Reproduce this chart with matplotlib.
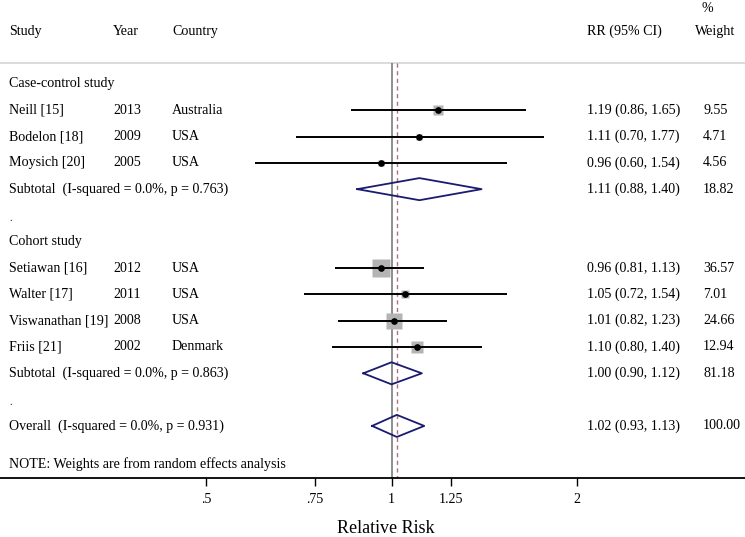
import numpy as np
import matplotlib
matplotlib.use("Agg")
import matplotlib.pyplot as plt
import matplotlib.transforms as mtransforms

plt.rcParams['font.family'] = ['Liberation Serif', 'DejaVu Serif']

# study rows
studies = ["Neill [15]", "Bodelon [18]", "Moysich [20]",
           "Setiawan [16]", "Walter [17]", "Viswanathan [19]", "Friis [21]"]
years = ["2013", "2009", "2005", "2012", "2011", "2008", "2002"]
countries = ["Australia", "USA", "USA", "USA", "USA", "USA", "Denmark"]
rr = [1.19, 1.11, 0.96, 0.96, 1.05, 1.01, 1.10]
lo = [0.86, 0.70, 0.60, 0.81, 0.72, 0.82, 0.80]
hi = [1.65, 1.77, 1.54, 1.13, 1.54, 1.23, 1.40]
weights = [9.55, 4.71, 4.56, 36.57, 7.01, 24.66, 12.94]
study_rows = [1, 2, 3, 7, 8, 9, 10]

# pooled rows
pooled_labels = ["Subtotal  (I-squared = 0.0%, p = 0.763)",
                 "Subtotal  (I-squared = 0.0%, p = 0.863)",
                 "Overall  (I-squared = 0.0%, p = 0.931)"]
pooled_rr = [1.11, 1.00, 1.02]
pooled_lo = [0.88, 0.90, 0.93]
pooled_hi = [1.40, 1.12, 1.13]
pooled_w = ["18.82", "81.18", "100.00"]
pooled_rows = [4, 11, 13]

group_labels = ["Case-control study", "Cohort study"]
group_rows = [0, 6]
spacer_rows = [5, 12]

ticks = [0.5, 0.75, 1, 1.25, 2]
tick_labels = [".5", ".75", "1", "1.25", "2"]

fig = plt.figure(figsize=(7.45, 5.37), dpi=100)
ax = fig.add_axes([0, 59 / 537, 1, 478 / 537])
ax.set_xscale('log')
ax.set_xlim(0.2315, 3.747)
ax.set_ylim(14.98, -3.19)

fs = 10.1
blend = mtransforms.blended_transform_factory(ax.transAxes, ax.transData)
x_study, x_year, x_country = 9 / 745, 113 / 745, 172 / 745
x_rr, x_w = 587 / 745, 703 / 745

# header
ax.text(x_study, -2, "Study", transform=blend, fontsize=fs, va='center')
ax.text(x_year, -2, "Year", transform=blend, fontsize=fs, va='center')
ax.text(x_country, -2, "Country", transform=blend, fontsize=fs, va='center')
ax.text(x_rr, -2, "RR (95% CI)", transform=blend, fontsize=fs, va='center')
ax.text(695 / 745, -2, "Weight", transform=blend, fontsize=fs, va='center')
ax.text(702 / 745, -2.85, "%", transform=blend, fontsize=fs, va='center')
ax.plot([0, 1], [-0.8, -0.8], transform=blend, color='#d4d4d4', lw=1.2,
        clip_on=False)

# reference lines
ax.vlines(1.0, -0.8, 14.98, color='#707070', lw=1.1)
ax.vlines(pooled_rr[-1], -0.8, 14.98, color='#b07080', lw=1.0,
          linestyles=(0, (3, 2.5)))

for g, r in zip(group_labels, group_rows):
    ax.text(x_study, r, g, transform=blend, fontsize=fs, va='center')
for r in spacer_rows:
    ax.text(x_study, r + 0.1, ".", transform=blend, fontsize=7, va='center')

# studies
for i, r in enumerate(study_rows):
    ax.text(x_study, r, studies[i], transform=blend, fontsize=fs, va='center')
    ax.text(x_year, r, years[i], transform=blend, fontsize=fs, va='center')
    ax.text(x_country, r, countries[i], transform=blend, fontsize=fs, va='center')
    ax.text(x_rr, r, f"{rr[i]:.2f} ({lo[i]:.2f}, {hi[i]:.2f})", transform=blend,
            fontsize=fs, va='center')
    ax.text(x_w, r, f"{weights[i]:.2f}", transform=blend, fontsize=fs, va='center')
    side = 3.14 * np.sqrt(weights[i]) / 1.389
    ax.plot(rr[i], r, marker='s', ms=side, color='#b4b4b4', mec='none', zorder=3)
    ax.hlines(r, lo[i], hi[i], color='black', lw=1.4, zorder=4)
    ax.plot(rr[i], r, marker='o', ms=3.8, color='black', zorder=5)

# pooled diamonds
h = 0.42
for i, r in enumerate(pooled_rows):
    ax.text(x_study, r, pooled_labels[i], transform=blend, fontsize=fs, va='center')
    ax.text(x_rr, r, f"{pooled_rr[i]:.2f} ({pooled_lo[i]:.2f}, {pooled_hi[i]:.2f})",
            transform=blend, fontsize=fs, va='center')
    ax.text(x_w, r, pooled_w[i], transform=blend, fontsize=fs, va='center')
    ax.plot([pooled_lo[i], pooled_rr[i], pooled_hi[i], pooled_rr[i], pooled_lo[i]],
            [r, r - h, r, r + h, r], color='#1a1a70', lw=1.3, zorder=5)

ax.text(x_study, 14.45, "NOTE: Weights are from random effects analysis",
        transform=blend, fontsize=fs, va='center')

# axis
for s in ['top', 'left', 'right']:
    ax.spines[s].set_visible(False)
ax.spines['bottom'].set_linewidth(1.3)
ax.set_yticks([])
ax.set_xticks(ticks)
ax.set_xticklabels(tick_labels, fontsize=fs)
ax.xaxis.set_minor_locator(matplotlib.ticker.NullLocator())
ax.tick_params(axis='x', direction='out', length=6, width=1.0, pad=5)
ax.set_xlabel("Relative Risk", fontsize=13)
ax.xaxis.set_label_coords(386 / 745, -0.088)

fig.savefig("out.png", dpi=100)
